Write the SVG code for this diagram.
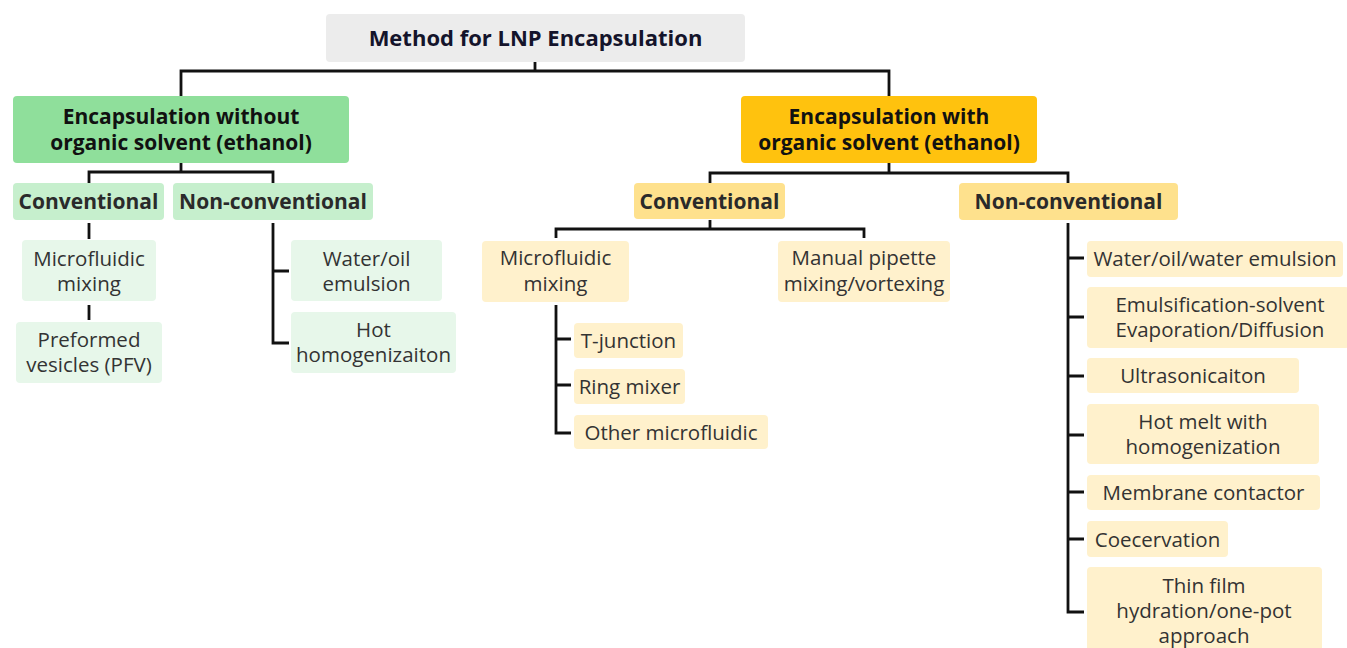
<svg xmlns="http://www.w3.org/2000/svg" width="1347" height="648" viewBox="0 0 1347 648">
<style>
text{font-family:"Open Sans","Noto Sans","Liberation Sans",sans-serif;text-anchor:middle}
.t0{font-size:22px;font-weight:700;fill:#14142b}
.t1{font-size:21px;font-weight:700;fill:#111}
.t2{font-size:21px;font-weight:700;fill:#2a2a2a}
.t3{font-size:20.5px;font-weight:400;fill:#333}
.root{fill:#ececec}
.gh{fill:#8fdf9b}
.gs{fill:#c6efcd}
.gl{fill:#e7f7ea}
.oh{fill:#ffc20e}
.os{fill:#fee18d}
.ol{fill:#fff1cc}
#connectors path{fill:none;stroke:#111;stroke-width:2.8}
</style>
<rect width="1347" height="648" fill="#fff"/>
<g id="connectors">
<path d="M535,62 V71 M181,96 V71 H889 V96"/>
<path d="M181,163 V172 M89,183 V172 H273 V183"/>
<path d="M89,223 V239 M89,305 V320"/>
<path d="M273,223 V343 H289 M273,271 H289"/>
<path d="M889,163 V173 M710,183 V173 H1068 V183"/>
<path d="M710,220 V229 M556,238 V229 H864 V238"/>
<path d="M556,305 V433 H571 M556,339 H571 M556,385 H571"/>
<path d="M1068,223 V612 H1084 M1068,258 H1084 M1068,317 H1084 M1068,376 H1084 M1068,435 H1084 M1068,492 H1084 M1068,539 H1084"/>
</g>
<g id="root"><rect class="root" x="326" y="14" width="419" height="48" rx="4"/><text class="t0" x="535.5" y="46">Method for LNP Encapsulation</text></g>
<g id="without"><rect class="gh" x="13" y="96" width="336" height="67" rx="4"/><text class="t1" x="181" y="124">Encapsulation without</text><text class="t1" x="181" y="150">organic solvent (ethanol)</text></g>
<g id="with"><rect class="oh" x="741" y="96" width="296" height="67" rx="4"/><text class="t1" x="889" y="124">Encapsulation with</text><text class="t1" x="889" y="150">organic solvent (ethanol)</text></g>
<g id="g-conv"><rect class="gs" x="13" y="183" width="151" height="37" rx="4"/><text class="t2" x="88.5" y="209">Conventional</text></g>
<g id="g-nonconv"><rect class="gs" x="173" y="183" width="200" height="37" rx="4"/><text class="t2" x="273" y="209">Non-conventional</text></g>
<g id="o-conv"><rect class="os" x="634" y="183" width="151" height="36" rx="4"/><text class="t2" x="709.5" y="209">Conventional</text></g>
<g id="o-nonconv"><rect class="os" x="959" y="183" width="219" height="37" rx="4"/><text class="t2" x="1068.5" y="209">Non-conventional</text></g>
<g id="g-micro"><rect class="gl" x="22" y="240" width="134" height="61" rx="4"/><text class="t3" x="89" y="266">Microfluidic</text><text class="t3" x="89" y="291">mixing</text></g>
<g id="g-pfv"><rect class="gl" x="16" y="322" width="146" height="61" rx="4"/><text class="t3" x="89" y="347">Preformed</text><text class="t3" x="89" y="372">vesicles (PFV)</text></g>
<g id="g-wo"><rect class="gl" x="291" y="240" width="151" height="61" rx="4"/><text class="t3" x="366.5" y="266">Water/oil</text><text class="t3" x="366.5" y="291">emulsion</text></g>
<g id="g-hot"><rect class="gl" x="291" y="312" width="165" height="61" rx="4"/><text class="t3" x="373.5" y="337">Hot</text><text class="t3" x="373.5" y="362">homogenizaiton</text></g>
<g id="o-micro"><rect class="ol" x="482" y="241" width="147" height="61" rx="4"/><text class="t3" x="555.5" y="265">Microfluidic</text><text class="t3" x="555.5" y="291">mixing</text></g>
<g id="o-manual"><rect class="ol" x="778" y="241" width="172" height="61" rx="4"/><text class="t3" x="864" y="265">Manual pipette</text><text class="t3" x="864" y="291">mixing/vortexing</text></g>
<g id="o-tj"><rect class="ol" x="574" y="323" width="109" height="35" rx="4"/><text class="t3" x="628.5" y="348">T-junction</text></g>
<g id="o-ring"><rect class="ol" x="574" y="369" width="111" height="35" rx="4"/><text class="t3" x="629.5" y="394">Ring mixer</text></g>
<g id="o-other"><rect class="ol" x="574" y="415" width="194" height="34" rx="4"/><text class="t3" x="671" y="440">Other microfluidic</text></g>
<g id="o-wow"><rect class="ol" x="1087" y="241" width="256" height="36" rx="4"/><text class="t3" x="1215" y="266">Water/oil/water emulsion</text></g>
<g id="o-emul"><rect class="ol" x="1087" y="287" width="262" height="61" rx="4"/><text class="t3" x="1220" y="312">Emulsification-solvent</text><text class="t3" x="1220" y="337">Evaporation/Diffusion</text></g>
<g id="o-ultra"><rect class="ol" x="1087" y="358" width="212" height="35" rx="4"/><text class="t3" x="1193" y="383">Ultrasonicaiton</text></g>
<g id="o-hotmelt"><rect class="ol" x="1087" y="404" width="232" height="60" rx="4"/><text class="t3" x="1203" y="429">Hot melt with</text><text class="t3" x="1203" y="454">homogenization</text></g>
<g id="o-membrane"><rect class="ol" x="1087" y="475" width="233" height="35" rx="4"/><text class="t3" x="1203.5" y="500">Membrane contactor</text></g>
<g id="o-coe"><rect class="ol" x="1087" y="521" width="141" height="36" rx="4"/><text class="t3" x="1157.5" y="547">Coecervation</text></g>
<g id="o-thin"><rect class="ol" x="1087" y="567" width="235" height="90" rx="4"/><text class="t3" x="1204" y="593">Thin film</text><text class="t3" x="1204" y="618">hydration/one-pot</text><text class="t3" x="1204" y="643">approach</text></g>
</svg>
